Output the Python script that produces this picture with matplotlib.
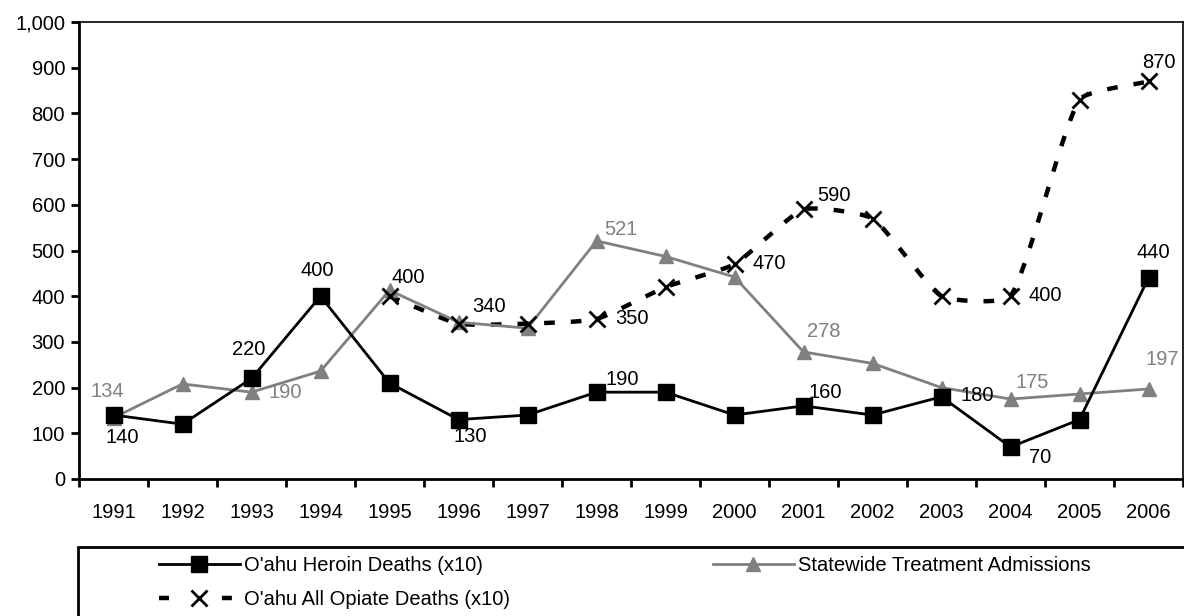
import matplotlib
matplotlib.use("Agg")
import matplotlib.pyplot as plt
import matplotlib.ticker as ticker
from matplotlib.patches import Rectangle
from matplotlib.lines import Line2D
import numpy as np

plt.rcParams['font.family'] = ['Liberation Sans', 'DejaVu Sans']

years = ['1991', '1992', '1993', '1994', '1995', '1996', '1997', '1998',
         '1999', '2000', '2001', '2002', '2003', '2004', '2005', '2006']
heroin = [140, 120, 220, 400, 210, 130, 140, 190, 190, 140, 160, 140, 180, 70, 130, 440]
treatment = [134, 208, 190, 236, 413, 343, 330, 521, 487, 442, 278, 253, 200, 175, 186, 197]
opiate_years = years[4:]
opiate = [400, 340, 340, 350, 420, 470, 590, 570, 400, 400, 830, 870]

# which points get a value label, with label offset in pixels (dx, dy up)
heroin_lbl = {0: (9, -22), 2: (-3, 29), 3: (-3, 26), 5: (12, -17), 7: (26, 13),
              10: (22, 13), 12: (36, 1), 13: (30, -10), 15: (5, 25)}
treat_lbl = {0: (-6, 26), 2: (34, 0), 7: (24, 11), 10: (20, 20), 13: (22, 17), 15: (14, 29)}
opiate_lbl = {0: (19, 19), 1: (31, 17), 3: (35, 1), 5: (35, 1), 6: (30, 14),
              9: (35, 1), 11: (10, 19)}

GRAY = '#808080'
FS = 14.5


def smooth(x, y, sx=69.0, sy=0.457, k=1 / 6.0, n=30):
    # mild Excel-like smoothed line: bezier segments whose control arms are
    # scaled by the neighbouring segment lengths (measured in pixels)
    P = np.column_stack([np.asarray(x, float) * sx, np.asarray(y, float) * sy])
    P = np.vstack([P[0], P, P[-1]])
    t = np.linspace(0, 1, n)[:, None]
    out = []
    for i in range(1, len(P) - 2):
        p0, p1, p2, p3 = P[i - 1], P[i], P[i + 1], P[i + 2]
        d01 = np.hypot(*(p1 - p0))
        d12 = np.hypot(*(p2 - p1))
        d23 = np.hypot(*(p3 - p2))
        c1 = p1 + (p2 - p0) * d12 / (d01 + d12) * k
        c2 = p2 - (p3 - p1) * d12 / (d12 + d23) * k
        pts = ((1 - t) ** 3 * p1 + 3 * (1 - t) ** 2 * t * c1
               + 3 * (1 - t) * t ** 2 * c2 + t ** 3 * p2)
        out.append(pts)
    out = np.vstack(out)
    return out[:, 0] / sx, out[:, 1] / sy


fig = plt.figure(figsize=(11.84, 6.16), dpi=100)
ax = fig.add_axes([79 / 1184, 1 - 479 / 616, 1104 / 1184, 457 / 616])

x = np.arange(len(years))
xo = np.arange(len(years) - len(opiate_years), len(years))

# opiate deaths, smoothed dashed line
lx, ly = smooth(xo, opiate)
ax.plot(lx, ly, color='black', lw=3.2, dashes=(2.4, 3.6), zorder=2)
ax.plot(xo, opiate, ls='none', marker='x', ms=11, mew=2, color='black', zorder=4)

ax.plot(x, treatment, color=GRAY, lw=2, marker='^', ms=10, mec=GRAY, mfc=GRAY, zorder=3)
ax.plot(x, heroin, color='black', lw=2, marker='s', ms=11.5, zorder=3)

for i, (dx, dy) in heroin_lbl.items():
    ax.annotate(str(heroin[i]), (x[i], heroin[i]), xytext=(dx, dy), textcoords='offset pixels',
                ha='center', va='center', fontsize=FS, color='black', zorder=5)
for i, (dx, dy) in treat_lbl.items():
    ax.annotate(str(treatment[i]), (x[i], treatment[i]), xytext=(dx, dy), textcoords='offset pixels',
                ha='center', va='center', fontsize=FS, color=GRAY, zorder=5)
for i, (dx, dy) in opiate_lbl.items():
    ax.annotate(str(opiate[i]), (xo[i], opiate[i]), xytext=(dx, dy), textcoords='offset pixels',
                ha='center', va='center', fontsize=FS, color='black', zorder=5)

ax.set_xlim(-0.5, len(years) - 0.5)
ax.set_ylim(0, 1000)
ax.set_xticks(x)
ax.set_xticklabels(years)
ax.xaxis.set_minor_locator(ticker.FixedLocator(np.arange(-0.5, len(years), 1)))
ax.tick_params(axis='x', which='major', length=0, pad=17, labelsize=FS)
ax.tick_params(axis='x', which='minor', length=6, width=2, direction='out')
ax.yaxis.set_major_locator(ticker.MultipleLocator(100))
ax.yaxis.set_major_formatter(ticker.StrMethodFormatter('{x:,.0f}'))
ax.tick_params(axis='y', length=6, width=2, pad=4, labelsize=FS)
for s in ('left', 'bottom'):
    ax.spines[s].set_linewidth(2)
for s in ('top', 'right'):
    ax.spines[s].set_linewidth(1.2)

# legend box, running off the bottom and right of the figure
fig.patches.append(Rectangle((78 / 1184, -0.1), 1.2, 1 - 547 / 616 + 0.1, transform=fig.transFigure,
                             fill=False, edgecolor='black', lw=2))
h1 = Line2D([], [], color='black', lw=2, marker='s', ms=11.5)
h2 = Line2D([], [], color='black', lw=3.2, dashes=(2.25, 11.9), marker='x', ms=11, mew=2)
h3 = Line2D([], [], color=GRAY, lw=2, marker='^', ms=10, mec=GRAY, mfc=GRAY)
fig.legend([h1, h2, h3],
           ["O'ahu Heroin Deaths (x10)", "O'ahu All Opiate Deaths (x10)",
            'Statewide Treatment Admissions'],
           loc='upper left', bbox_to_anchor=(149 / 1184, 1 - 546 / 616), ncol=2,
           frameon=False, fontsize=FS, handlelength=4.0, handletextpad=0.2,
           columnspacing=10.1, labelspacing=0.75, borderpad=0)

fig.savefig('out.png', dpi=100)
